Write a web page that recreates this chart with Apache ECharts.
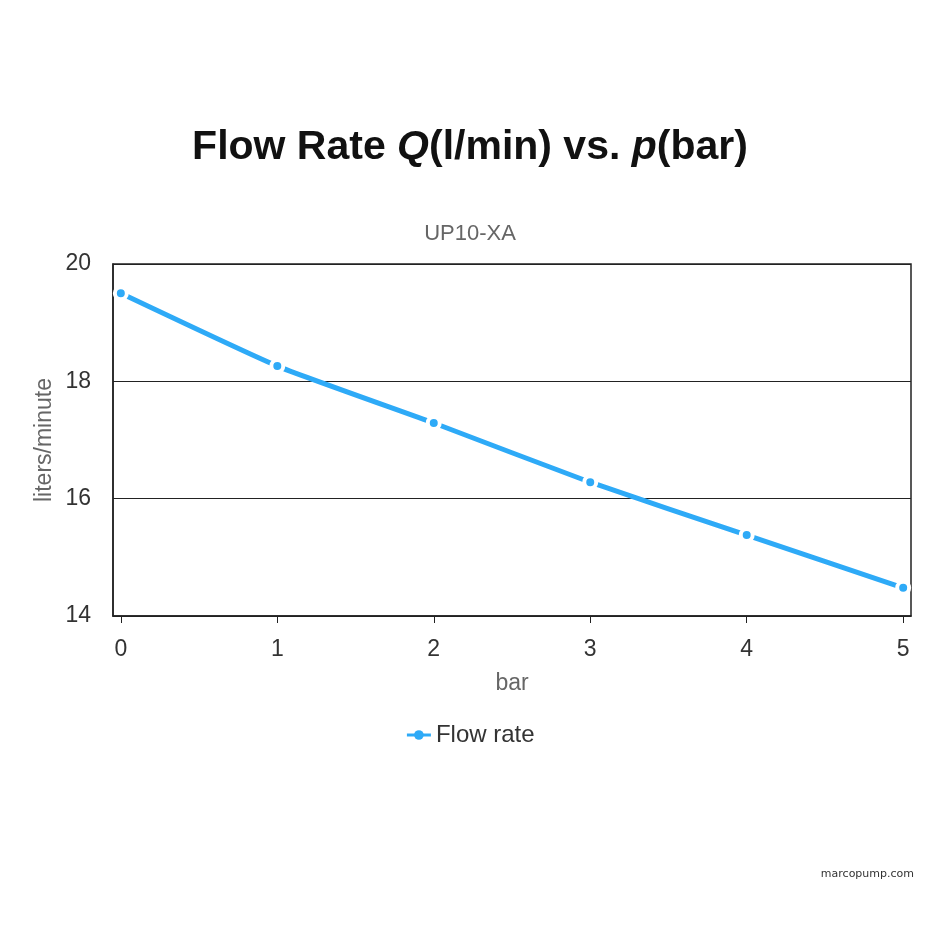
<!DOCTYPE html>
<html>
<head>
<meta charset="utf-8">
<script src="https://cdn.jsdelivr.net/npm/echarts@6/dist/echarts.min.js"></script>
<style>
  html, body { margin: 0; padding: 0; background: #fff; }
  #chart { width: 940px; height: 940px; }
</style>
</head>
<body>
<div id="chart"></div>
<script>
var pressure = [0, 1, 2, 3, 4, 5];
var flow = [19.5, 18.26, 17.29, 16.28, 15.38, 14.48];
var xTicks = [0, 1, 2, 3, 4, 5];

;(function(){
  var chart = echarts.init(document.getElementById('chart'));
  var font = 'Liberation Sans, Arial, sans-serif';

  var points = pressure.map(function(p, i){ return [p, flow[i]]; });

  var option = {
    backgroundColor: '#fff',
    animation: false,
    title: [{
      text: '{b|Flow Rate }{i|Q}{b|(l/min) vs. }{i|p}{b|(bar)}',
      left: 'center',
      top: 122,
      textStyle: {
        rich: {
          b: { fontFamily: font, fontSize: 41, fontWeight: 'bold', color: '#111' },
          i: { fontFamily: font, fontSize: 41, fontWeight: 'bold', fontStyle: 'italic', color: '#111' }
        }
      }
    }, {
      text: 'UP10-XA',
      left: 'center',
      top: 218,
      textStyle: { fontFamily: font, fontSize: 22, fontWeight: 'normal', color: '#666' }
    }, {
      text: 'marcopump.com',
      right: 21,
      top: 864,
      textStyle: { fontFamily: 'DejaVu Sans, sans-serif', fontSize: 11, fontWeight: 'normal', color: '#333' }
    }],
    legend: {
      data: [{
        name: 'Flow rate',
        itemStyle: { borderWidth: 0 },
        lineStyle: { width: 3 }
      }],
      top: 718,
      left: 'center',
      itemWidth: 24,
      itemHeight: 12,
      textStyle: { fontFamily: font, fontSize: 24, color: '#333' }
    },
    grid: {
      left: 113,
      right: 29,
      top: 264,
      bottom: 324,
      show: true,
      borderColor: '#222',
      borderWidth: 1.5,
      containLabel: false
    },
    xAxis: {
      type: 'value',
      min: -0.05,
      max: 5.05,
      name: 'bar',
      nameLocation: 'middle',
      nameGap: 56,
      nameMoveOverlap: false,
      nameTextStyle: { fontFamily: font, fontSize: 23, color: '#666' },
      axisLine: { show: true, onZero: false, lineStyle: { color: '#222', width: 1.5 } },
      axisTick: { show: true, customValues: xTicks, length: 7, lineStyle: { color: '#222' } },
      axisLabel: { customValues: xTicks, fontFamily: font, fontSize: 23, color: '#333', margin: 22 },
      splitLine: { show: false }
    },
    yAxis: {
      type: 'value',
      min: 14,
      max: 20,
      interval: 2,
      name: 'liters/minute',
      nameLocation: 'middle',
      nameGap: 57,
      nameMoveOverlap: false,
      nameTextStyle: { fontFamily: font, fontSize: 23, color: '#666' },
      axisLine: { show: true, onZero: false, lineStyle: { color: '#222', width: 1.5 } },
      axisTick: { show: false },
      axisLabel: { fontFamily: font, fontSize: 23, color: '#333', margin: 22 },
      splitLine: { show: true, lineStyle: { color: '#222', width: 1.2 } }
    },
    series: [{
      name: 'Flow rate',
      type: 'line',
      data: points,
      smooth: 0.15,
      symbol: 'circle',
      symbolSize: 12,
      showAllSymbol: true,
      lineStyle: { color: '#2eaaf7', width: 5 },
      itemStyle: { color: '#2eaaf7', borderColor: '#fff', borderWidth: 4 }
    }]
  };
  chart.setOption(option);
})();
</script>
</body>
</html>
